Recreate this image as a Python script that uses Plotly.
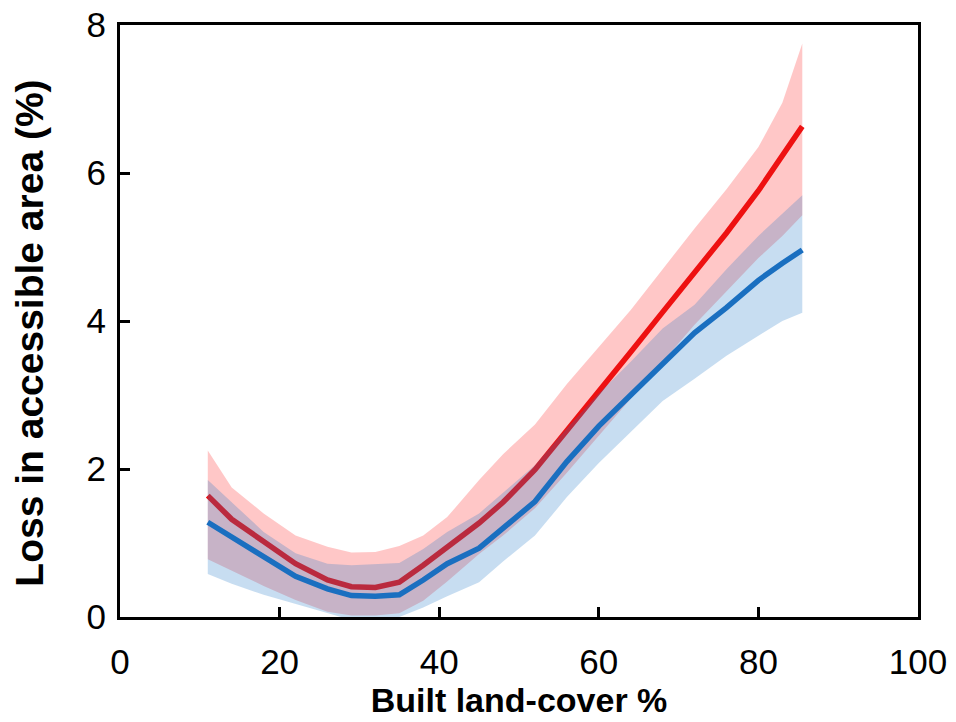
import plotly.graph_objects as go

# Built land-cover share (%) at which the curves are evaluated
built_pct = [11, 14, 18, 22, 26, 29, 32, 35, 38, 41, 45, 48, 52, 56, 60, 64, 68, 72, 76, 80, 83, 85.5]

# Red series: mean and confidence band
red_mean = [1.64, 1.32, 1.02, 0.72, 0.50, 0.41, 0.40, 0.47, 0.70, 0.95, 1.27, 1.55, 1.99, 2.52,
            3.04, 3.58, 4.12, 4.65, 5.19, 5.76, 6.22, 6.63]
red_upper = [2.25, 1.75, 1.40, 1.10, 0.95, 0.87, 0.88, 0.96, 1.10, 1.35, 1.85, 2.20, 2.60, 3.15,
             3.65, 4.15, 4.70, 5.25, 5.78, 6.35, 6.95, 7.75]
red_lower = [0.78, 0.62, 0.42, 0.23, 0.07, 0.02, 0.02, 0.05, 0.22, 0.48, 0.85, 1.10, 1.47, 1.95,
             2.45, 2.95, 3.45, 3.95, 4.40, 4.85, 5.15, 5.43]

# Blue series: mean and confidence band
blue_mean = [1.28, 1.08, 0.80, 0.55, 0.38, 0.29, 0.28, 0.30, 0.50, 0.72, 0.93, 1.19, 1.56, 2.10,
             2.58, 3.00, 3.43, 3.84, 4.18, 4.55, 4.78, 4.96]
blue_upper = [1.85, 1.55, 1.15, 0.86, 0.72, 0.70, 0.71, 0.73, 0.92, 1.15, 1.40, 1.68, 2.05, 2.55,
              3.02, 3.45, 3.90, 4.22, 4.70, 5.15, 5.45, 5.70]
blue_lower = [0.58, 0.45, 0.30, 0.18, 0.05, -0.04, -0.04, 0.00, 0.13, 0.28, 0.47, 0.75, 1.10, 1.62,
              2.08, 2.50, 2.92, 3.22, 3.53, 3.80, 4.00, 4.11]

x_ticks = [0, 20, 40, 60, 80, 100]
y_ticks = [0, 2, 4, 6, 8]

RED_LINE = "#ee1111"
RED_FILL = "rgba(255,0,0,0.22)"
BLUE_LINE = "#1a6fc0"
BLUE_FILL = "rgba(30,120,200,0.25)"
FONT = "Liberation Sans, Arial, sans-serif"


def band(x, lo, hi, color):
    return go.Scatter(
        x=list(x) + list(x)[::-1],
        y=list(hi) + list(lo)[::-1],
        fill="toself",
        fillcolor=color,
        line=dict(width=0),
        mode="lines",
        hoverinfo="skip",
        showlegend=False,
    )


fig = go.Figure()
fig.add_trace(band(built_pct, red_lower, red_upper, RED_FILL))
fig.add_trace(go.Scatter(x=built_pct, y=red_mean, mode="lines",
                         line=dict(color=RED_LINE, width=5.5), showlegend=False))
fig.add_trace(band(built_pct, blue_lower, blue_upper, BLUE_FILL))
fig.add_trace(go.Scatter(x=built_pct, y=blue_mean, mode="lines",
                         line=dict(color=BLUE_LINE, width=5.5), showlegend=False))

axis_common = dict(
    showgrid=False,
    zeroline=False,
    showline=True,
    linecolor="black",
    linewidth=3,
    mirror=True,
    ticks="inside",
    ticklen=10,
    tickwidth=2.5,
    tickcolor="black",
    automargin=False,
    tickfont=dict(family=FONT, size=35, color="black"),
)

fig.update_xaxes(
    range=[0, 100],
    tickvals=x_ticks,
    ticklabelstandoff=12,
    title=dict(text="<b>Built land-cover %</b>",
               font=dict(family=FONT, size=34, color="black"),
               standoff=9),
    **axis_common,
)
fig.update_yaxes(
    range=[0, 8],
    tickvals=y_ticks,
    ticklabelstandoff=4,
    **axis_common,
)

# Vertical axis title, placed as a rotated annotation
fig.add_annotation(
    text="<b>Loss in accessible area (%)</b>",
    xref="paper", yref="paper",
    x=-0.113, y=0.48,
    xanchor="center", yanchor="middle",
    textangle=-90,
    showarrow=False,
    font=dict(family=FONT, size=39, color="black"),
)

fig.update_layout(
    width=956,
    height=722,
    margin=dict(l=120, r=38, t=25, b=105),
    paper_bgcolor="white",
    plot_bgcolor="white",
)

fig.write_html("out.html")
